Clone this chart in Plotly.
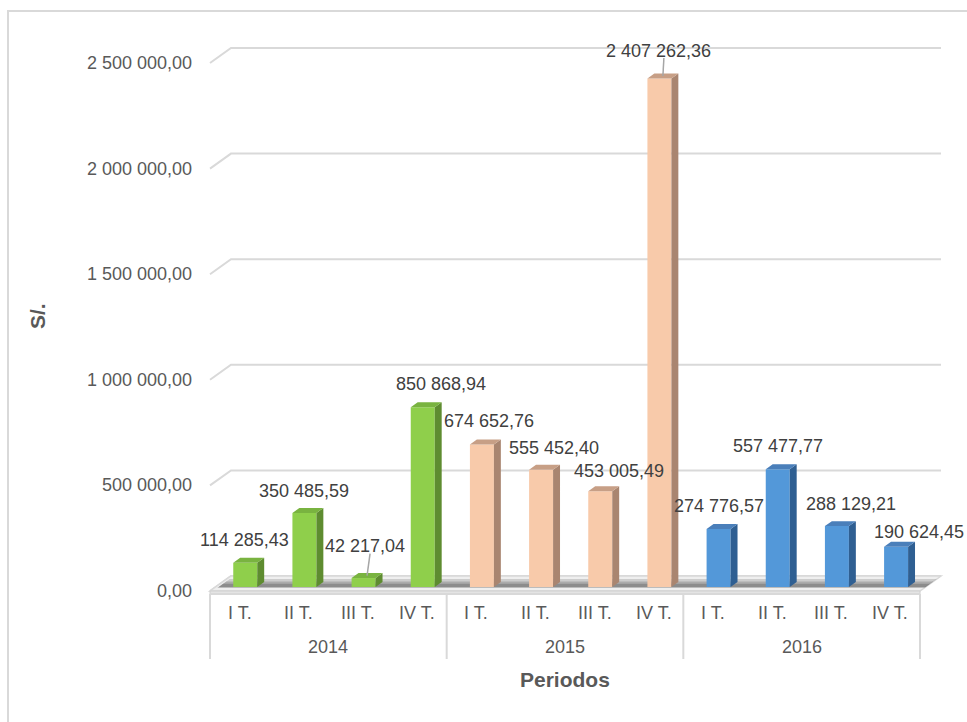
import plotly.graph_objects as go

# ---- data ----
years = ["2014", "2015", "2016"]
quarters = ["I T.", "II T.", "III T.", "IV T."]
values_2014 = [114285.43, 350485.59, 42217.04, 850868.94]
values_2015 = [674652.76, 555452.40, 453005.49, 2407262.36]
values_2016 = [274776.57, 557477.77, 288129.21, 190624.45]
tick_values = [0, 500000, 1000000, 1500000, 2000000, 2500000]
tick_labels = ["0,00", "500 000,00", "1 000 000,00", "1 500 000,00",
               "2 000 000,00", "2 500 000,00"]

series = [values_2014, values_2015, values_2016]

# ---- styling ----
W, H = 967, 722
faces = {  # front, side, top
    "2014": ("#8FCF4B", "#5E8C30", "#79B340"),
    "2015": ("#F8CAAA", "#A98570", "#C79F86"),
    "2016": ("#5398D9", "#2F5F92", "#4A7FBA"),
}
grid_col = "#D9D9D9"
txt_dark = "#404040"
txt_axis = "#595959"
FONT = "Liberation Sans, Arial, sans-serif"

# label offsets (px) relative to the top of each bar's front face
label_shift = [(-1, 23), (0, 22), (1, 32), (18, 23), (7, 23), (13, 22),
               (19, 20), (-1, 28), (0, 23), (0, 23), (14, 22), (23, 15)]
leader = [False, False, True, False, False, False,
          False, True, False, False, False, False]

# ---- projection: category units across, value units up, depth 0..1 ----
n_cat = len(years) * len(quarters)
left_px, right_px = 210, 920
unit_x = (right_px - left_px) / n_cat          # px per category
zero_py = 591                                   # y pixel of 0 on the front plane
k = 528 / 2500000                               # px per value unit
x0 = -0.5 - left_px / unit_x
x1 = x0 + W / unit_x
y0 = -(H - zero_py) / k
y1 = y0 + H / k
DX = 21 / unit_x          # full depth, horizontal shift (data units)
DY = 15 / k               # full depth, vertical shift (data units)


def P(c, v, d):
    return c + d * DX, v + d * DY


def path(pts):
    s = "M " + " L ".join(f"{x},{y}" for x, y in pts) + " Z"
    return s


fig = go.Figure()
shapes = []
annotations = []

# back wall gridlines with the bend at the left wall
for tv, tl in zip(tick_values, tick_labels):
    a = P(-0.5, tv, 0)
    b = P(-0.5, tv, 1)
    c = P(n_cat - 0.5, tv, 1)
    shapes.append(dict(type="path", path=f"M {a[0]},{a[1]} L {b[0]},{b[1]} L {c[0]},{c[1]}",
                       xref="x", yref="y", line=dict(color=grid_col, width=2), layer="below"))
    annotations.append(dict(x=-0.5, y=tv, xref="x", yref="y", text=tl, showarrow=False,
                            xanchor="right", yanchor="middle", xshift=-16,
                            font=dict(family=FONT, size=18, color=txt_axis)))

# floor
fl = [P(-0.5, 0, 0), P(n_cat - 0.5, 0, 0), P(n_cat - 0.5, 0, 1), P(-0.5, 0, 1)]
shapes.append(dict(type="path", path=path(fl), xref="x", yref="y",
                   fillcolor="#EFEFEF", line=dict(color=grid_col, width=1.5), layer="below"))
for da, db, op in [(0.2, 0.8, 0.2), (0.24, 0.64, 0.25), (0.27, 0.48, 0.3)]:
    band = [P(-0.45, 0, da), P(n_cat - 0.5, 0, da), P(n_cat - 0.5, 0, db), P(-0.45, 0, db)]
    shapes.append(dict(type="path", path=path(band), xref="x", yref="y",
                       fillcolor=f"rgba(70,70,70,{op})", line=dict(width=0), layer="below"))
slab_h = 3 / k
slab = [P(-0.5, 0, 0), P(n_cat - 0.5, 0, 0), P(n_cat - 0.5, -slab_h, 0), P(-0.5, -slab_h, 0)]
shapes.append(dict(type="path", path=path(slab), xref="x", yref="y",
                   fillcolor="#E4E4E4", line=dict(color="#D0D0D0", width=1), layer="below"))

# bars: front faces as bars, side and top faces as polygons
w = 24 / unit_x
d0, d1 = 0.27, 0.6
idx = 0
for yi, (yr, vals) in enumerate(zip(years, series)):
    front, side, top = faces[yr]
    cats = [yi * len(quarters) + qi for qi in range(len(quarters))]
    fig.add_trace(go.Bar(x=[c + d0 * DX for c in cats], y=vals, base=[d0 * DY] * len(vals),
                         width=w, marker=dict(color=front, line=dict(width=0)),
                         hoverinfo="skip", showlegend=False))
    sx, sy, tx, ty = [], [], [], []
    for c, v in zip(cats, vals):
        for pt in [P(c + w / 2, 0, d0), P(c + w / 2, 0, d1), P(c + w / 2, v, d1), P(c + w / 2, v, d0)]:
            sx.append(pt[0]); sy.append(pt[1])
        sx.append(None); sy.append(None)
        for pt in [P(c - w / 2, v, d0), P(c + w / 2, v, d0), P(c + w / 2, v, d1), P(c - w / 2, v, d1)]:
            tx.append(pt[0]); ty.append(pt[1])
        tx.append(None); ty.append(None)
    fig.add_trace(go.Scatter(x=sx, y=sy, mode="lines", fill="toself", fillcolor=side,
                             line=dict(width=0, color=side), hoverinfo="skip", showlegend=False))
    fig.add_trace(go.Scatter(x=tx, y=ty, mode="lines", fill="toself", fillcolor=top,
                             line=dict(width=0, color=top), hoverinfo="skip", showlegend=False))

    # value labels
    for c, v in zip(cats, vals):
        txt = f"{v:,.2f}".replace(",", " ").replace(".", ",")
        fx, fy = P(c, v, d0)
        dx, dy = label_shift[idx]
        annotations.append(dict(x=fx, y=fy, xref="x", yref="y", text=txt, showarrow=False,
                                xanchor="center", yanchor="middle", xshift=dx, yshift=dy,
                                font=dict(family=FONT, size=18, color=txt_dark)))
        if leader[idx]:
            tx0, ty0 = P(c, v, (d0 + d1) / 2)
            shapes.append(dict(type="line", xref="x", yref="y",
                               xsizemode="pixel", ysizemode="pixel",
                               xanchor=tx0, yanchor=ty0, x0=0, y0=0,
                               x1=dx + 2, y1=dy - 10,
                               line=dict(color="#A6A6A6", width=1.5)))
        idx += 1

# category axis box
box_top = -slab_h
box_bot = -(659 - zero_py) / k
shapes.append(dict(type="line", xref="x", yref="y", x0=-0.5, x1=n_cat - 0.5, y0=box_top, y1=box_top,
                   line=dict(color=grid_col, width=2)))
for g in range(len(years) + 1):
    gx = -0.5 + g * len(quarters)
    shapes.append(dict(type="line", xref="x", yref="y", x0=gx, x1=gx, y0=box_top, y1=box_bot,
                       line=dict(color=grid_col, width=2)))
for yi, yr in enumerate(years):
    for qi, q in enumerate(quarters):
        annotations.append(dict(x=yi * len(quarters) + qi, y=0, xref="x", yref="y", text=q,
                                showarrow=False, yshift=-22, yanchor="middle",
                                font=dict(family=FONT, size=18, color=txt_axis)))
    annotations.append(dict(x=yi * len(quarters) + 1.5, y=0, xref="x", yref="y", text=yr,
                            showarrow=False, yshift=-56, yanchor="middle",
                            font=dict(family=FONT, size=18, color=txt_axis)))

# axis titles
annotations.append(dict(x=5.5, y=0, xref="x", yref="y", text="<b>Periodos</b>", showarrow=False,
                        yshift=-88, yanchor="middle",
                        font=dict(family=FONT, size=21, color=txt_axis)))
annotations.append(dict(x=37 / W, y=1 - 316 / H, xref="paper", yref="paper", text="<b>S/.</b>",
                        showarrow=False, textangle=-90, xanchor="center", yanchor="middle",
                        font=dict(family=FONT, size=21, color=txt_axis)))

# chart frame (left and top edges)
shapes.append(dict(type="path", xref="paper", yref="paper",
                   path=f"M {8 / W},0 L {8 / W},{1 - 11 / H} L 1,{1 - 11 / H}",
                   line=dict(color=grid_col, width=2)))

fig.update_layout(
    width=W, height=H, margin=dict(l=0, r=0, t=0, b=0),
    paper_bgcolor="white", plot_bgcolor="white",
    barmode="overlay", showlegend=False,
    xaxis=dict(range=[x0, x1], visible=False, fixedrange=True),
    yaxis=dict(range=[y0, y1], visible=False, fixedrange=True),
    shapes=shapes, annotations=annotations,
)

fig.write_html("out.html")
